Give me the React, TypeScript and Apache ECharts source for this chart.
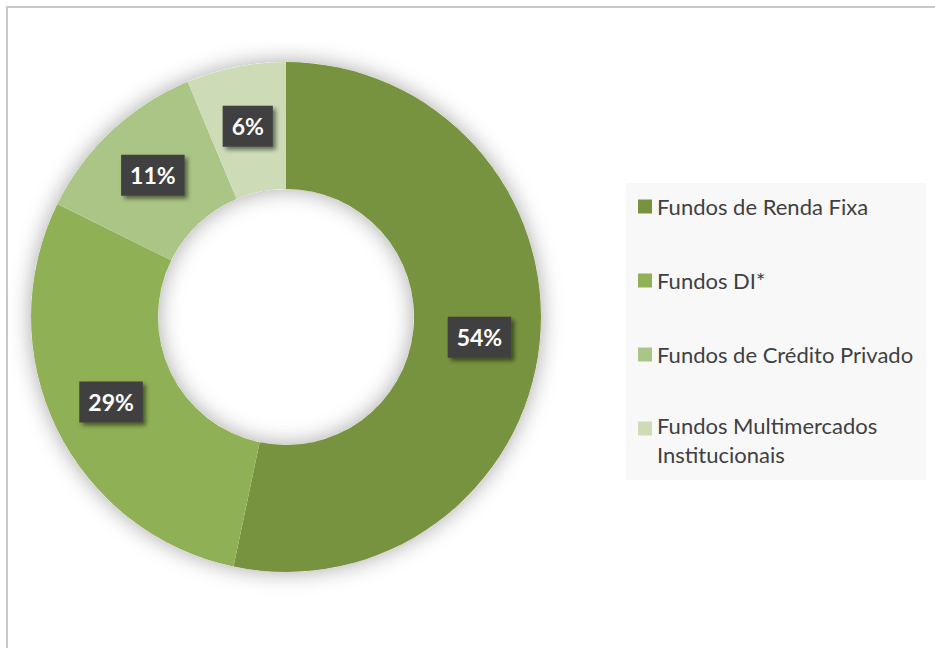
import React, { useEffect, useRef } from "react";
import * as echarts from "echarts";

const categories = [
  "Fundos de Renda Fixa",
  "Fundos DI*",
  "Fundos de Crédito Privado",
  "Fundos Multimercados Institucionais",
];
// slice sizes (share of total, %)
const sliceValues = [53.3, 29.0, 11.4, 6.3];
// percentage labels as printed on the chart
const percentLabels = ["54%", "29%", "11%", "6%"];
const colors = ["#78933f", "#8fb055", "#abc586", "#cddcb7"];

const FONT = "Lato, 'Noto Sans', sans-serif";

// legend markers: 14x14 square inside a 14x43 box (invisible corner points set the box)
const ICON_MID = "path://M0,14.5h14v14h-14z M0,0L0.01,0 M0,43L0.01,43";
const ICON_TOP = "path://M0,3.5h14v14h-14z M0,0L0.01,0 M0,43L0.01,43";

export default function App() {
  const ref = useRef<HTMLDivElement>(null);
  useEffect(() => {
    if (!ref.current) return;
    const chart = echarts.init(ref.current, undefined, { renderer: "svg" });
    chart.setOption({
      animation: false,
      backgroundColor: "#ffffff",
      graphic: [
        {
          type: "rect",
          shape: { x: 7, y: 7, width: 1000, height: 1000 },
          style: { fill: "none", stroke: "#c8c8c8", lineWidth: 2 },
          z: 0,
        },
        {
          type: "rect",
          shape: { x: 626, y: 183, width: 300, height: 297 },
          style: { fill: "#f8f8f8" },
          z: 0,
        },
      ],
      legend: {
        orient: "vertical",
        left: 626,
        top: 185,
        padding: [0, 0, 0, 12],
        itemWidth: 14,
        itemHeight: 43,
        itemGap: 31,
        data: categories.map((c, i) =>
          i === categories.length - 1
            ? { name: c, icon: ICON_TOP, textStyle: { padding: [7, 0, 0, 0] } }
            : { name: c, icon: ICON_MID }
        ),
        formatter: (name: string) =>
          name === "Fundos Multimercados Institucionais"
            ? "Fundos Multimercados\nInstitucionais"
            : name,
        textStyle: {
          fontFamily: FONT,
          fontSize: 22,
          color: "#404040",
          lineHeight: 29,
        },
        z: 5,
      },
      series: [
        {
          type: "pie",
          silent: true,
          center: [286, 317],
          radius: [128, 255],
          label: { show: false },
          labelLine: { show: false },
          itemStyle: {
            color: "#ffffff",
            shadowBlur: 22,
            shadowColor: "rgba(0,0,0,0.35)",
          },
          data: [{ value: 1, name: "" }],
          legendHoverLink: false,
          z: 1,
        },
        {
          type: "pie",
          center: [286, 317],
          radius: [128, 255],
          startAngle: 90,
          clockwise: true,
          color: colors,
          data: categories.map((c, i) => ({ name: c, value: sliceValues[i] })),
          itemStyle: { borderWidth: 0 },
          labelLine: { show: false },
          label: {
            show: true,
            position: "inside",
            formatter: (p: any) => percentLabels[p.dataIndex],
            color: "#ffffff",
            fontFamily: FONT,
            fontWeight: "bold",
            fontSize: 23,
            lineHeight: 25,
            backgroundColor: "#404040",
            padding: [8, 9, 8, 9],
            shadowBlur: 4,
            shadowOffsetX: 3,
            shadowOffsetY: 3,
            shadowColor: "rgba(0,0,0,0.5)",
          },
          z: 2,
        },
      ],
    });
    return () => chart.dispose();
  }, []);
  return (
    <div style={{ position: "fixed", left: 0, top: 0, width: 935, height: 648 }}>
      <div ref={ref} style={{ width: 935, height: 648 }} />
    </div>
  );
}
